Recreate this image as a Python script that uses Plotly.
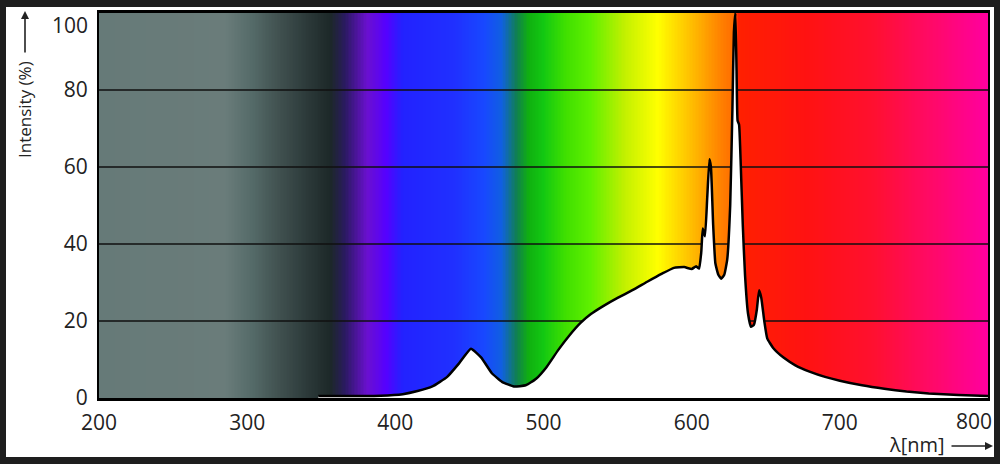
import numpy as np
import plotly.graph_objects as go

# ---- data ----
wavelength_nm = [348, 370, 390, 405, 415, 425, 435, 443, 451, 458, 465, 472, 480, 488, 495,
                 502, 510, 518, 525, 532, 540, 550, 560, 570, 580, 588, 595, 600, 603, 605,
                 606.5, 607.5, 609, 610.5, 612, 613, 614.5, 616, 618, 620, 622, 624, 626,
                 627.5, 628.5, 629.5, 630.3, 631, 632, 633, 634.5, 636, 638, 640, 642, 644,
                 645.5, 647, 649, 651, 655, 662, 670, 680, 690, 700, 715, 730, 745, 760, 780, 800]
intensity_pct = [0.5, 0.5, 0.6, 1.0, 1.8, 3.0, 5.5, 9.0, 12.8, 10.5, 6.5, 4.2, 3.0, 3.3, 5.0,
                 8.0, 12.5, 16.5, 19.5, 21.8, 23.8, 26.0, 28.0, 30.2, 32.3, 33.8, 34.0, 33.5, 34.2, 33.6,
                 38, 44, 42, 52, 62, 60, 45, 35, 32, 31, 32, 36, 50,
                 75, 95, 100, 85, 72, 71, 62, 45, 32, 22, 18.5, 19, 23,
                 28, 26, 20, 15.5, 13, 10.5, 8.5, 6.8, 5.5, 4.5, 3.3, 2.4, 1.7, 1.2, 0.8, 0.5]
x_ticks = [200, 300, 400, 500, 600, 700, 800]
y_ticks = [0, 20, 40, 60, 80, 100]
grid_levels = [20, 40, 60, 80]

# ---- background spectrum colours (style) ----
spectrum_stops = [
    (200, "#667a78"), (285, "#6a7c7a"), (302, "#566c6a"), (322, "#40504f"),
    (340, "#2c3a3a"), (356, "#1c2828"), (366, "#2a1a60"), (381, "#6a10d0"),
    (394, "#5500ff"), (405, "#2222ff"), (440, "#2030ff"), (460, "#1848ff"),
    (472, "#1060e0"), (482, "#108050"), (490, "#10b010"), (500, "#12c812"),
    (515, "#40e000"), (532, "#60f000"), (554, "#c0f000"), (577, "#ffff00"),
    (599, "#ffc000"), (620, "#ff8000"), (629, "#ff6a00"), (631, "#ff2000"),
    (678, "#ff1212"), (723, "#ff1030"), (768, "#ff0870"), (800, "#ff00a0"),
]
colorscale = [[(w - 200) / 600, c] for w, c in spectrum_stops]

edges = np.arange(200, 801, 1)
centers = (edges[:-1] + edges[1:]) / 2

fig = go.Figure()
fig.add_trace(go.Heatmap(x=edges, y=[0, 100], z=[centers], colorscale=colorscale,
                         zmin=200, zmax=800, showscale=False, hoverinfo="skip"))
for g in grid_levels:
    fig.add_trace(go.Scatter(x=[x_ticks[0], x_ticks[-1]], y=[g, g], mode="lines",
                             line=dict(color="#111", width=1.6), hoverinfo="skip", showlegend=False))
fig.add_trace(go.Scatter(x=wavelength_nm, y=intensity_pct, mode="lines", fill="tozeroy",
                         fillcolor="white", line=dict(color="black", width=2.5, shape="spline", smoothing=0.4),
                         showlegend=False))

W, H, L, T = 889, 385, 99, 13
def px(xp): return (xp - L) / W
def py(yp): return (T + H - yp) / H

fig.add_shape(type="rect", xref="paper", yref="paper", x0=px(6), x1=px(994), y0=py(457), y1=py(7),
              fillcolor="white", line_width=0, layer="below")

font = dict(family="Open Sans, DejaVu Sans, sans-serif", color="#222")
tick_font = dict(size=21, **font)

# end tick labels are pulled inside the frame, as in the reference
x_text = [str(v) for v in x_ticks[:-1]] + [""]
y_text = [str(v) for v in y_ticks[:-1]] + [""]
fig.add_annotation(xref="paper", yref="paper", x=px(994), y=py(421), xanchor="right", yanchor="middle",
                   text=str(x_ticks[-1]), showarrow=False, font=tick_font)
fig.add_annotation(xref="paper", yref="paper", x=px(89.5), y=py(9), xanchor="right", yanchor="top",
                   text=str(y_ticks[-1]), showarrow=False, font=tick_font)

fig.add_annotation(xref="paper", yref="paper", x=px(25), y=py(110), xanchor="center", yanchor="middle",
                   text="Intensity (%)", textangle=-90, showarrow=False, font=dict(size=17, **font))
fig.add_annotation(xref="paper", yref="paper", x=px(25), y=py(11), ax=0, ay=43,
                   text="", showarrow=True, arrowhead=2,
                   arrowsize=1, arrowwidth=1.6, arrowcolor="#222")
fig.add_annotation(xref="paper", yref="paper", x=px(917), y=py(444), xanchor="center", yanchor="middle",
                   text="λ[nm]", showarrow=False, font=dict(size=20, **font))
fig.add_annotation(xref="paper", yref="paper", x=px(993), y=py(446), ax=-43, ay=0,
                   text="", showarrow=True, arrowhead=2,
                   arrowsize=1, arrowwidth=1.6, arrowcolor="#222")

fig.update_layout(
    width=1000, height=464, margin=dict(l=L, r=1000 - L - W, t=T, b=464 - T - H),
    paper_bgcolor="#1e1e1e", plot_bgcolor="white", showlegend=False,
    xaxis=dict(range=[200, 800], tickvals=x_ticks, ticktext=x_text, showgrid=False, zeroline=False,
               automargin=False, showline=True, linecolor="black", linewidth=2.5, mirror=True, ticks="",
               tickfont=tick_font, ticklabelstandoff=4, ticklabeloverflow="allow"),
    yaxis=dict(range=[0, 100], tickvals=y_ticks, ticktext=y_text, showgrid=False, zeroline=False,
               automargin=False, showline=True, linecolor="black", linewidth=2, mirror=True, ticks="",
               tickfont=tick_font, ticklabelstandoff=5, ticklabeloverflow="allow"),
)
fig.write_html("out.html", config={"displayModeBar": False},
               post_script="document.body.style.margin='0';")
